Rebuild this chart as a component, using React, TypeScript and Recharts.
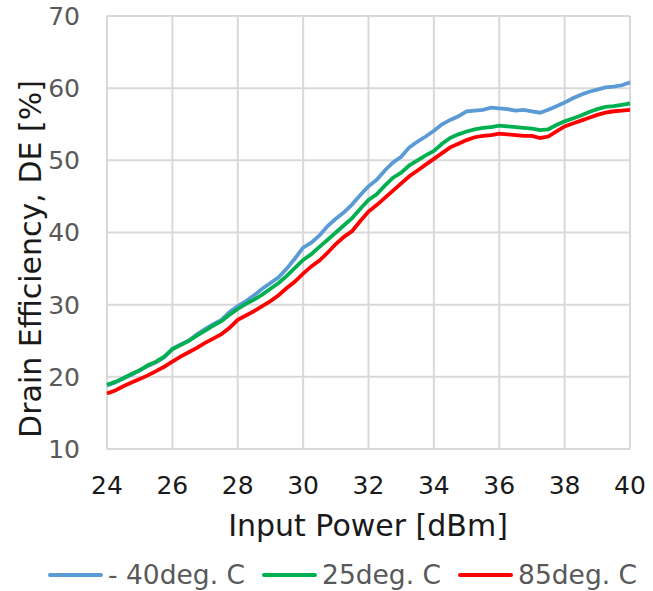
import React from 'react';
import { LineChart, Line, XAxis, YAxis, CartesianGrid, Legend, Label } from 'recharts';

const inputPower = [
  24, 24.25, 24.5, 24.75, 25, 25.25, 25.5, 25.75, 26, 26.25, 26.5, 26.75, 27, 27.25, 27.5, 27.75,
  28, 28.25, 28.5, 28.75, 29, 29.25, 29.5, 29.75, 30, 30.25, 30.5, 30.75, 31, 31.25, 31.5, 31.75,
  32, 32.25, 32.5, 32.75, 33, 33.25, 33.5, 33.75, 34, 34.25, 34.5, 34.75, 35, 35.25, 35.5, 35.75,
  36, 36.25, 36.5, 36.75, 37, 37.25, 37.5, 37.75, 38, 38.25, 38.5, 38.75, 39, 39.25, 39.5, 39.75, 40,
];

const deMinus40 = [
  18.8, 19.2, 19.8, 20.3, 20.9, 21.5, 22.0, 22.7, 23.9, 24.5, 25.0, 25.9, 26.6, 27.3, 27.9, 29.0,
  29.8, 30.5, 31.3, 32.2, 33.0, 33.8, 35.0, 36.4, 37.9, 38.6, 39.6, 40.9, 41.9, 42.8, 43.9, 45.2,
  46.4, 47.3, 48.6, 49.7, 50.5, 51.8, 52.6, 53.3, 54.1, 55.0, 55.6, 56.1, 56.8, 56.9, 57.0, 57.3,
  57.2, 57.1, 56.9, 57.0, 56.8, 56.6, 57.0, 57.5, 58.0, 58.6, 59.1, 59.5, 59.8, 60.1, 60.2, 60.4, 60.8,
];

const de25 = [
  18.9, 19.3, 19.8, 20.4, 20.9, 21.6, 22.1, 22.8, 23.8, 24.4, 25.0, 25.7, 26.4, 27.1, 27.7, 28.6,
  29.4, 30.1, 30.7, 31.4, 32.2, 33.0, 34.0, 35.1, 36.2, 37.0, 38.0, 39.0, 40.0, 41.0, 42.0, 43.3,
  44.5, 45.3, 46.5, 47.6, 48.3, 49.3, 50.0, 50.7, 51.3, 52.3, 53.1, 53.6, 54.0, 54.3, 54.5, 54.6,
  54.8, 54.7, 54.6, 54.5, 54.4, 54.2, 54.3, 54.9, 55.4, 55.8, 56.2, 56.7, 57.1, 57.4, 57.5, 57.7, 57.9,
];

const de85 = [
  17.7, 18.1, 18.7, 19.2, 19.7, 20.2, 20.8, 21.4, 22.1, 22.8, 23.4, 24.0, 24.7, 25.3, 25.9, 26.8,
  27.9, 28.5, 29.1, 29.8, 30.5, 31.3, 32.3, 33.2, 34.3, 35.3, 36.1, 37.2, 38.4, 39.4, 40.2, 41.6,
  42.9, 43.8, 44.8, 45.8, 46.8, 47.8, 48.6, 49.4, 50.2, 51.0, 51.8, 52.3, 52.8, 53.2, 53.4, 53.5,
  53.7, 53.6, 53.5, 53.4, 53.4, 53.1, 53.3, 54.0, 54.7, 55.1, 55.5, 55.9, 56.3, 56.6, 56.8, 56.9, 57.0,
];

const xTicks = [24, 26, 28, 30, 32, 34, 36, 38, 40];
const yTicks = [10, 20, 30, 40, 50, 60, 70];

const series = [
  { key: 'm40', name: '- 40deg. C', color: '#5B9BD5', values: deMinus40 },
  { key: 't25', name: '25deg. C', color: '#00B050', values: de25 },
  { key: 't85', name: '85deg. C', color: '#FF0000', values: de85 },
];

const data = inputPower.map((p, i) => ({
  p,
  m40: deMinus40[i],
  t25: de25[i],
  t85: de85[i],
}));

const FONT = '"DejaVu Sans", Verdana, sans-serif';

const LegendRow = () => (
  <div
    style={{
      display: 'flex',
      flexWrap: 'nowrap',
      whiteSpace: 'nowrap',
      alignItems: 'center',
      fontFamily: FONT,
      fontSize: 26.5,
      color: '#595959',
      paddingLeft: 48,
    }}
  >
    {series.map((s) => (
      <div key={s.key} style={{ display: 'flex', alignItems: 'center', marginRight: 17, flexShrink: 0 }}>
        <svg width={55} height={6} style={{ marginRight: 5, flexShrink: 0 }}>
          <line x1={2} y1={3} x2={53} y2={3} stroke={s.color} strokeWidth={4} strokeLinecap="round" />
        </svg>
        <span>{s.name}</span>
      </div>
    ))}
  </div>
);

export default function App() {
  return (
    <div style={{ position: 'absolute', left: 0, top: 0 }}>
      <LineChart width={653} height={591} data={data} margin={{ top: 16, right: 23, left: 0, bottom: 0 }}>
        <CartesianGrid stroke="#D9D9D9" strokeWidth={2} horizontal vertical />
        <XAxis
          dataKey="p"
          type="number"
          domain={[24, 40]}
          ticks={xTicks}
          axisLine={false}
          tickLine={false}
          tickMargin={21}
          height={90}
          tick={{ fill: '#1A1A1A', fontSize: 25, fontFamily: FONT }}
        >
          <Label
            content={() => (
              <text x={368} y={525} textAnchor="middle" dominantBaseline="central" fill="#1A1A1A" fontSize={30} fontFamily={FONT}>
                Input Power [dBm]
              </text>
            )}
          />
        </XAxis>
        <YAxis
          type="number"
          domain={[10, 70]}
          ticks={yTicks}
          axisLine={false}
          tickLine={false}
          tickMargin={21}
          width={107}
          tick={{ fill: '#595959', fontSize: 25, fontFamily: FONT }}
        >
          <Label
            content={() => (
              <text
                x={30}
                y={259}
                transform="rotate(-90 30 259)"
                textAnchor="middle"
                dominantBaseline="central"
                fill="#1A1A1A"
                fontSize={30}
                fontFamily={FONT}
              >
                Drain Efficiency, DE [%]
              </text>
            )}
          />
        </YAxis>
        <Legend
          verticalAlign="bottom"
          height={52}
          content={() => <LegendRow />}
          wrapperStyle={{ top: 559, left: 0, bottom: 'auto', width: 653 }}
        />
        {series.map((s) => (
          <Line
            key={s.key}
            dataKey={s.key}
            name={s.name}
            stroke={s.color}
            strokeWidth={3.8}
            dot={false}
            type="linear"
            isAnimationActive={false}
          />
        ))}
      </LineChart>
    </div>
  );
}
